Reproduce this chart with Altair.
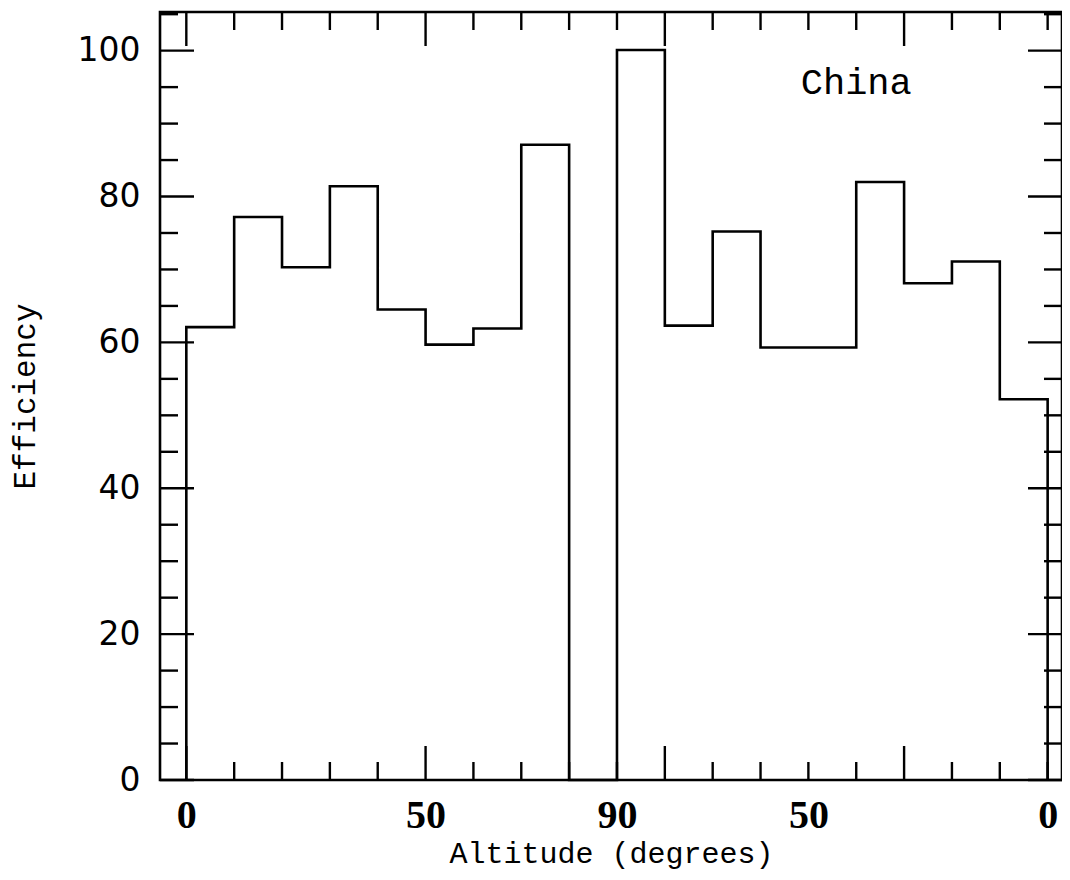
import altair as alt
import pandas as pd

# ---- data ----
bin_start = [0, 10, 20, 30, 40, 50, 60, 70, 80, 90, 100, 110, 120, 130, 140, 150, 160, 170]
efficiency = [62.1, 77.2, 70.3, 81.4, 64.5, 59.7, 61.9, 87.1, 0.0, 100.1,
              62.3, 75.2, 59.3, 59.3, 82.0, 68.1, 71.1, 52.2]
x_end = 180
x_label_values = [0, 50, 90, 130, 180]
x_label_text = ["0", "50", "90", "50", "0"]
y_label_values = [0, 20, 40, 60, 80, 100]
x_major_ticks = [0, 50, 100, 150]
x_minor_ticks = [t for t in range(0, 181, 10) if t not in x_major_ticks]
y_major_ticks = [0, 20, 40, 60, 80, 100]
y_minor_ticks = [t for t in range(0, 106, 5) if t not in y_major_ticks]
panel_label = "China"
panel_label_x = 140
panel_label_y = 94

W, H = 902, 768
MAJ, MIN = 34, 18

xs = alt.Scale(domain=[-5.5, 183], nice=False, zero=False)
ys = alt.Scale(domain=[0, 105.3], nice=False, zero=False)

# step outline
rows = [{"x": 0, "v": 0.0, "o": 0}]
for i, (b, e) in enumerate(zip(bin_start, efficiency)):
    rows.append({"x": b, "v": e, "o": i + 1})
rows.append({"x": x_end, "v": 0.0, "o": len(bin_start) + 1})
step_df = pd.DataFrame(rows)

label_expr = ""
for v, t in zip(x_label_values, x_label_text):
    label_expr += f"datum.value == {v} ? '{t}' : "
label_expr += "''"

x_axis = alt.Axis(
    values=x_label_values, labelExpr=label_expr, title="Altitude (degrees)",
    domain=False, ticks=False, grid=False,
    labelFont="Liberation Serif", labelFontWeight="bold", labelFontSize=40,
    labelColor="black", labelPadding=15,
    titleFont="Liberation Mono", titleFontWeight="normal", titleFontSize=30,
    titleColor="black", titlePadding=3)
y_axis = alt.Axis(
    values=y_label_values, title="Efficiency",
    domain=False, ticks=False, grid=False,
    labelFont="DejaVu Sans", labelFontSize=33, labelColor="black",
    labelPadding=20,
    titleFont="Liberation Mono", titleFontWeight="normal", titleFontSize=31,
    titleColor="black", titlePadding=36)

X = lambda f: alt.X(f, scale=xs, axis=x_axis)
Y = lambda f: alt.Y(f, scale=ys, axis=y_axis)

line = alt.Chart(step_df).mark_line(
    interpolate="step-after", color="black", strokeWidth=2.6
).encode(x=X("x:Q"), y=Y("v:Q"), order="o:Q")


def xticks(vals, length):
    d = pd.DataFrame({"x": vals})
    bottom = alt.Chart(d).mark_rule(color="black", strokeWidth=2.4).encode(
        x=X("x:Q"), y=alt.value(H), y2=alt.value(H - length))
    top = alt.Chart(d).mark_rule(color="black", strokeWidth=2.4).encode(
        x=X("x:Q"), y=alt.value(0), y2=alt.value(length))
    return [bottom, top]


def yticks(vals, length):
    d = pd.DataFrame({"v": vals})
    left = alt.Chart(d).mark_rule(color="black", strokeWidth=2.4).encode(
        y=Y("v:Q"), x=alt.value(0), x2=alt.value(length))
    right = alt.Chart(d).mark_rule(color="black", strokeWidth=2.4).encode(
        y=Y("v:Q"), x=alt.value(W), x2=alt.value(W - length))
    return [left, right]


label_df = pd.DataFrame({"x": [panel_label_x], "v": [panel_label_y], "t": [panel_label]})
china = alt.Chart(label_df).mark_text(
    font="Liberation Mono", fontSize=37, color="black", align="center", baseline="alphabetic"
).encode(x=X("x:Q"), y=Y("v:Q"), text="t:N")

layers = [line] + xticks(x_major_ticks, MAJ) + xticks(x_minor_ticks, MIN) \
    + yticks(y_major_ticks, MAJ) + yticks(y_minor_ticks, MIN) + [china]

chart = alt.layer(*layers).properties(
    width=W, height=H,
    autosize=alt.AutoSizeParams(type="none"),
    padding={"left": 152, "top": 4, "right": 0, "bottom": 92},
    background="white",
).configure_view(stroke="black", strokeWidth=2.6)

chart.save("out.html", embed_options={"renderer": "svg", "actions": False})
